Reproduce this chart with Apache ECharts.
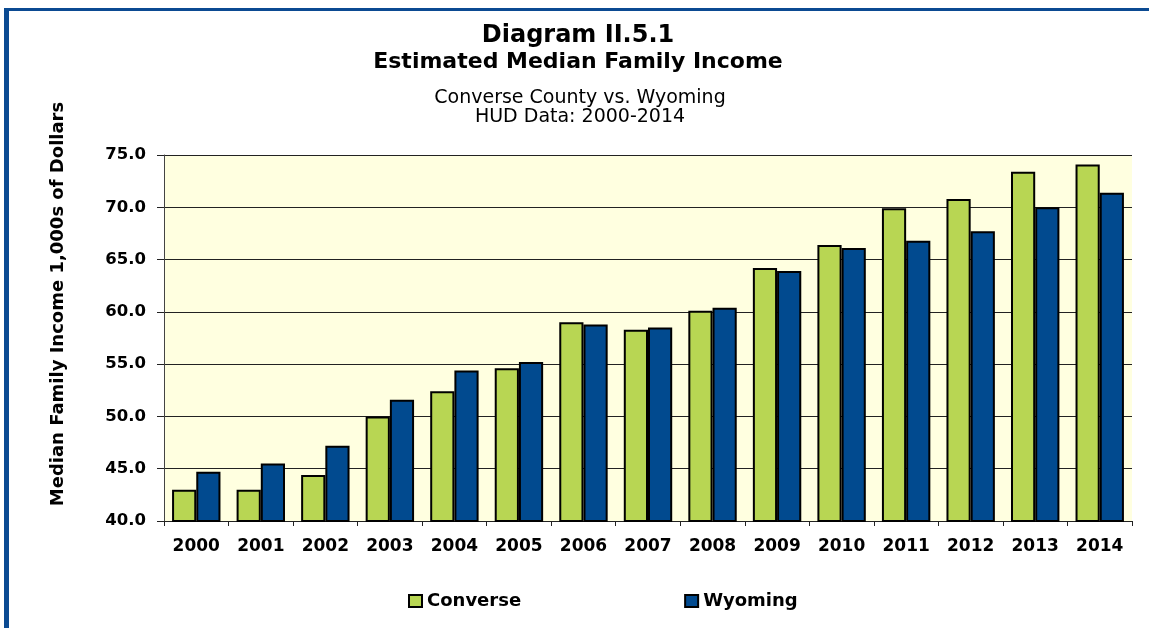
<!DOCTYPE html>
<html>
<head>
<meta charset="utf-8">
<script src="https://cdn.jsdelivr.net/npm/echarts@6/dist/echarts.min.js"></script>
<style>
  html, body { margin: 0; padding: 0; background: #fff; }
  #frame {
    position: absolute; left: 4px; top: 8px; width: 1200px; height: 700px;
    border-left: 5px solid #0b4a92; border-top: 3px solid #0b4a92;
  }
  #chart { position: absolute; left: 0; top: 0; width: 1149px; height: 628px; }
</style>
</head>
<body>
<div id="frame"></div>
<div id="chart"></div>
<script>
const years = ['2000', '2001', '2002', '2003', '2004', '2005', '2006', '2007',
  '2008', '2009', '2010', '2011', '2012', '2013', '2014']
const converse = [43.0, 43.0, 44.4, 50.0, 52.4, 54.6, 59.0, 58.3, 60.1, 64.2, 66.4, 69.9, 70.8, 73.4, 74.1]
const wyoming = [44.7, 45.5, 47.2, 51.6, 54.4, 55.2, 58.8, 58.5, 60.4, 63.9, 66.1, 66.8, 67.7, 70.0, 71.4]

const font = 'DejaVu Sans, Verdana, sans-serif'
const mychart = echarts.init(document.getElementById('chart'), null, { renderer: 'canvas' })

mychart.setOption({
  animation: false,
  backgroundColor: 'transparent',
  textStyle: { fontFamily: font },
  title: [
    {
      text: 'Diagram II.5.1',
      left: 573, top: 19, textAlign: 'center',
      textStyle: { fontSize: 24, fontWeight: 'bold', color: '#000', fontFamily: font }
    },
    {
      text: 'Estimated Median Family Income',
      left: 573, top: 46, textAlign: 'center',
      textStyle: { fontSize: 22, fontWeight: 'bold', color: '#000', fontFamily: font }
    },
    {
      text: 'Converse County vs. Wyoming\nHUD Data: 2000-2014',
      left: 575, top: 84, textAlign: 'center',
      textStyle: { fontSize: 19, fontWeight: 'normal', color: '#000', lineHeight: 18.5, fontFamily: font }
    }
  ],
  // y axis title sits above the plot middle in the original, so drawn by hand
  graphic: [{
    type: 'text',
    x: 58, y: 304,
    rotation: Math.PI / 2,
    style: {
      text: 'Median Family Income 1,000s of Dollars',
      font: 'bold 18px ' + font,
      fill: '#000',
      align: 'center',
      verticalAlign: 'middle'
    }
  }],
  legend: {
    left: 403, top: 587,
    itemWidth: 13, itemHeight: 12, itemGap: 163,
    icon: 'rect',
    textStyle: { fontSize: 18, fontWeight: 'bold', color: '#000', fontFamily: font },
    data: ['Converse', 'Wyoming']
  },
  grid: {
    left: 164, right: 17, top: 155, bottom: 107,
    show: true, backgroundColor: '#ffffe0', borderWidth: 0
  },
  xAxis: {
    type: 'category',
    data: years,
    axisLine: { lineStyle: { color: '#222', width: 1 } },
    axisTick: { show: true, alignWithLabel: false, length: 5, lineStyle: { color: '#222' } },
    axisLabel: { fontSize: 17, fontWeight: 'bold', color: '#000', margin: 17, fontFamily: font }
  },
  yAxis: {
    type: 'value',
    min: 40, max: 75, interval: 5,
    axisLine: { show: true, lineStyle: { color: '#444', width: 1 } },
    axisTick: { show: true, length: 7, lineStyle: { color: '#222' } },
    axisLabel: {
      fontSize: 16.5, fontWeight: 'bold', color: '#000', margin: 18, fontFamily: font,
      formatter: v => v.toFixed(1)
    },
    splitLine: { lineStyle: { color: '#222', width: 1 } }
  },
  series: [
    {
      name: 'Converse', type: 'bar', data: converse,
      barGap: '0%', barCategoryGap: '25%',
      itemStyle: { color: '#b8d653', borderColor: '#000', borderWidth: 2 }
    },
    {
      name: 'Wyoming', type: 'bar', data: wyoming,
      barGap: '0%', barCategoryGap: '25%',
      itemStyle: { color: '#014a8f', borderColor: '#000', borderWidth: 2 }
    }
  ]
})
</script>
</body>
</html>
